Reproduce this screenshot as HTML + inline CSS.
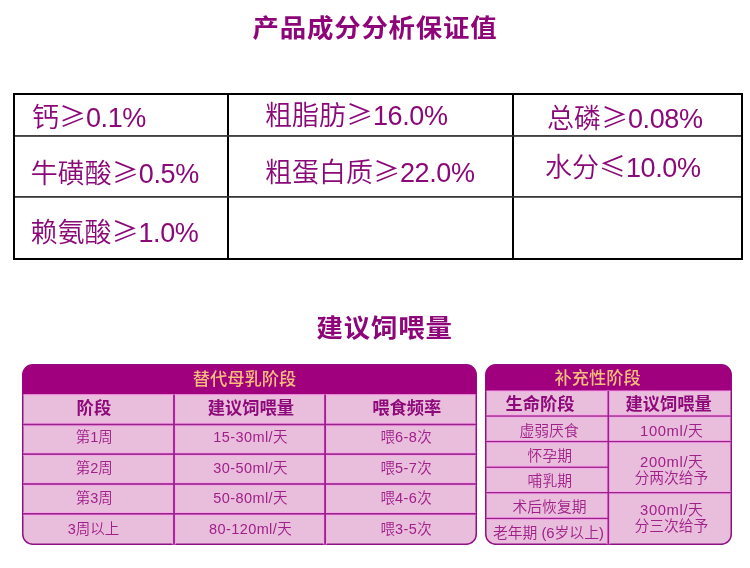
<!DOCTYPE html>
<html lang="zh-CN">
<head>
<meta charset="utf-8">
<title>产品成分分析保证值</title>
<style>
html,body{margin:0;padding:0;background:#fff;}
body{width:750px;height:568px;position:relative;overflow:hidden;
  font-family:"Liberation Sans","Noto Sans CJK SC",sans-serif;color:#8c0f7c;}
#bg{position:absolute;left:0;top:0;width:750px;height:568px;display:block;}
.t{position:absolute;white-space:nowrap;line-height:1;}
.cx{transform:translate(-50%,-50%);}
.ttl{font-weight:700;font-size:26.4px;letter-spacing:.85px;color:#8e0579;transform:translate(-50%,-50%) scaleY(.935);}
.sym{font-family:"Noto Sans CJK SC",sans-serif;}
.c1{font-size:27px;font-weight:350;color:#8b0879;}
.g{font-weight:500;font-size:17.3px;color:#f8bd7b;}
.sh{font-weight:700;font-size:17.3px;color:#8e0a7b;}
.d{font-weight:350;font-size:14.5px;color:#a0208a;}
.d .n{letter-spacing:.4px;}
.d2 .n{letter-spacing:.6px;}
.c1 .n{letter-spacing:-.4px;}
.d2{font-weight:350;font-size:14.8px;color:#a0208a;}
</style>
</head>
<body>
<svg id="bg" width="750" height="568" viewBox="0 0 750 568">
  <!-- analysis table -->
  <rect x="14" y="94" width="728" height="165" fill="#fff" stroke="#000" stroke-width="2"/>
  <rect x="227" y="95" width="2" height="163" fill="#000"/>
  <rect x="512" y="95" width="2" height="163" fill="#000"/>
  <rect x="15" y="135.1" width="726" height="1.7" fill="#2e2e2e"/>
  <rect x="15" y="196.05" width="726" height="1.7" fill="#2e2e2e"/>

  <!-- feeding table A -->
  <rect x="22.75" y="364.75" width="453.5" height="179.5" rx="10" ry="10" fill="#e9bedc" stroke="#8e1283" stroke-width="1.5"/>
  <path d="M22.6 394.4 V374.6 a10 10 0 0 1 10 -10 H466.4 a10 10 0 0 1 10 10 V394.4 Z" fill="#a0007e"/>
  <g fill="#f8a7ea">
    <rect x="23.5" y="394.4" width="452" height="1.1"/>
    <rect x="172.1" y="394.4" width="3.8" height="150"/>
    <rect x="323.2" y="394.4" width="3.8" height="150"/>
    <rect x="23.5" y="422.7" width="452" height="3.6"/>
    <rect x="23.5" y="452.3" width="452" height="3.6"/>
    <rect x="23.5" y="482.2" width="452" height="3.6"/>
    <rect x="23.5" y="512" width="452" height="3.6"/>
  </g>
  <g fill="#98228a">
    <rect x="173.1" y="394.4" width="1.8" height="150"/>
    <rect x="324.2" y="394.4" width="1.8" height="150"/>
    <rect x="23" y="423.7" width="453" height="1.6"/>
    <rect x="23" y="453.3" width="453" height="1.6"/>
    <rect x="23" y="483.2" width="453" height="1.6"/>
    <rect x="23" y="513" width="453" height="1.6"/>
  </g>

  <!-- feeding table B -->
  <rect x="485.75" y="364.75" width="245.5" height="179.5" rx="10" ry="10" fill="#e9bedc" stroke="#8e1283" stroke-width="1.5"/>
  <path d="M485.6 390.7 V374.6 a10 10 0 0 1 10 -10 H721.4 a10 10 0 0 1 10 10 V390.7 Z" fill="#a0007e"/>
  <g fill="#f8a7ea">
    <rect x="486.5" y="390.7" width="244" height="1.1"/>
    <rect x="606.5" y="390.7" width="3.6" height="153.5"/>
    <rect x="486.5" y="414.4" width="244" height="3.3"/>
    <rect x="486.5" y="439.9" width="244" height="3.3"/>
    <rect x="486.5" y="465.6" width="122" height="3.3"/>
    <rect x="486.5" y="491" width="244" height="3.3"/>
    <rect x="486.5" y="516.8" width="122" height="3.3"/>
  </g>
  <g fill="#98228a">
    <rect x="607.5" y="390.7" width="1.6" height="153.5"/>
    <rect x="486" y="415.4" width="245" height="1.3"/>
    <rect x="486" y="440.9" width="245" height="1.3"/>
    <rect x="486" y="466.6" width="122" height="1.3"/>
    <rect x="486" y="492" width="245" height="1.3"/>
    <rect x="486" y="517.8" width="122" height="1.3"/>
  </g>
</svg>

<div class="t ttl" style="left:375px;top:28.8px;">产品成分分析保证值</div>

<div class="t c1" style="left:32px;top:101.5px;">钙<span class="sym">≥</span><span class="n">0.1%</span></div>
<div class="t c1" style="left:265px;top:100px;">粗脂肪<span class="sym">≥</span><span class="n">16.0%</span></div>
<div class="t c1" style="left:547px;top:103px;">总磷<span class="sym">≥</span><span class="n">0.08%</span></div>
<div class="t c1" style="left:30.8px;top:157.7px;">牛磺酸<span class="sym">≥</span><span class="n">0.5%</span></div>
<div class="t c1" style="left:265px;top:156.5px;">粗蛋白质<span class="sym">≥</span><span class="n">22.0%</span></div>
<div class="t c1" style="left:545px;top:152px;">水分<span class="sym">≤</span><span class="n">10.0%</span></div>
<div class="t c1" style="left:30.5px;top:217px;">赖氨酸<span class="sym">≥</span><span class="n">1.0%</span></div>

<div class="t ttl" style="left:384.7px;top:328.8px;">建议饲喂量</div>

<!-- table A text -->
<div class="t g cx" style="left:244.5px;top:380px;">替代母乳阶段</div>
<div class="t sh cx" style="left:93.9px;top:409.3px;">阶段</div>
<div class="t sh cx" style="left:250.9px;top:409.3px;">建议饲喂量</div>
<div class="t sh cx" style="left:406.8px;top:409.3px;">喂食频率</div>

<div class="t d cx" style="left:94.2px;top:436.8px;">第1周</div>
<div class="t d cx" style="left:250.4px;top:436.8px;"><span class="n">15-30ml/</span>天</div>
<div class="t d cx" style="left:406.2px;top:436.8px;">喂<span class="n">6-8</span>次</div>
<div class="t d cx" style="left:94.2px;top:468.1px;">第2周</div>
<div class="t d cx" style="left:250.4px;top:468.1px;"><span class="n">30-50ml/</span>天</div>
<div class="t d cx" style="left:406.2px;top:468.1px;">喂<span class="n">5-7</span>次</div>
<div class="t d cx" style="left:94.2px;top:498.1px;">第3周</div>
<div class="t d cx" style="left:250.4px;top:498.1px;"><span class="n">50-80ml/</span>天</div>
<div class="t d cx" style="left:406.2px;top:498.1px;">喂<span class="n">4-6</span>次</div>
<div class="t d cx" style="left:93.6px;top:529px;">3周以上</div>
<div class="t d cx" style="left:250.4px;top:529px;"><span class="n">80-120ml/</span>天</div>
<div class="t d cx" style="left:406.2px;top:529px;">喂<span class="n">3-5</span>次</div>

<!-- table B text -->
<div class="t g cx" style="left:597.7px;top:379.2px;">补充性阶段</div>
<div class="t sh cx" style="left:540px;top:405px;">生命阶段</div>
<div class="t sh cx" style="left:668.7px;top:405px;">建议饲喂量</div>

<div class="t d2 cx" style="left:549.1px;top:430.5px;">虚弱厌食</div>
<div class="t d2 cx" style="left:549.8px;top:456.3px;">怀孕期</div>
<div class="t d2 cx" style="left:549.8px;top:480.7px;">哺乳期</div>
<div class="t d2 cx" style="left:549.5px;top:507.1px;">术后恢复期</div>
<div class="t d2 cx" style="left:548.4px;top:532.8px;">老年期 (6岁以上)</div>

<div class="t d2 cx" style="left:671.5px;top:430.5px;"><span class="n">100ml/</span>天</div>
<div class="t d2 cx" style="left:671.5px;top:462px;"><span class="n">200ml/</span>天</div>
<div class="t d2 cx" style="left:671.4px;top:477.7px;">分两次给予</div>
<div class="t d2 cx" style="left:671.5px;top:510.1px;"><span class="n">300ml/</span>天</div>
<div class="t d2 cx" style="left:671.4px;top:525.5px;">分三次给予</div>
</body>
</html>
